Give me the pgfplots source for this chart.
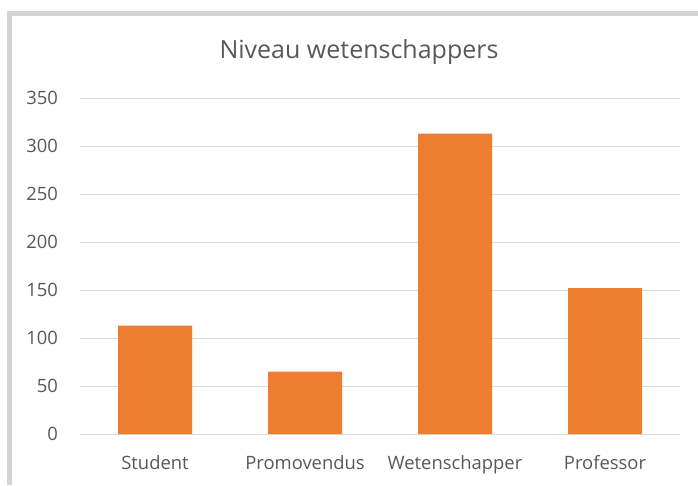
\documentclass[border=0pt]{standalone}
\usepackage{pgfplots}
\pgfplotsset{compat=1.18}
\usepackage{fontspec}
\setmainfont{Open Sans}
\definecolor{barorange}{HTML}{ED7D31}
\definecolor{txtgray}{HTML}{595959}
\definecolor{gridgray}{HTML}{D9D9D9}
\definecolor{framegray}{HTML}{D4D4D4}
\begin{document}
\begin{tikzpicture}[x=1pt,y=1pt]
\path[use as bounding box] (0,0) rectangle (698,485);
\fill[white] (0,0) rectangle (698,485);
\draw[framegray,line width=5pt] (9.5,0) -- (9.5,471.5) -- (698,471.5);
\node[txtgray,font=\fontsize{25}{29}\selectfont] at (359,433) {Niveau wetenschappers};
\begin{axis}[
  at={(80pt,51pt)}, anchor=south west,
  scale only axis, width=600pt, height=336pt,
  xmin=-0.5, xmax=3.5, ymin=0, ymax=350,
  ytick={0,50,...,350},
  xtick={0,1,2,3},
  xticklabels={Student,Promovendus,Wetenschapper,Professor},
  axis line style={draw=none},
  axis x line*=bottom,
  x axis line style={draw=gridgray,line width=1pt},
  major tick length=0pt,
  ymajorgrids, grid style={gridgray,line width=1pt},
  tick label style={font=\fontsize{18.4}{22}\selectfont, text=txtgray},
  yticklabel style={xshift=-18.5pt},
  xticklabel style={yshift=-18pt},
  /pgf/number format/assume math mode=true,
  ybar, bar width=74pt,
]
\addplot[fill=barorange,draw=none] coordinates {(0,113) (1,65) (2,313) (3,152)};
\end{axis}
\end{tikzpicture}
\end{document}
